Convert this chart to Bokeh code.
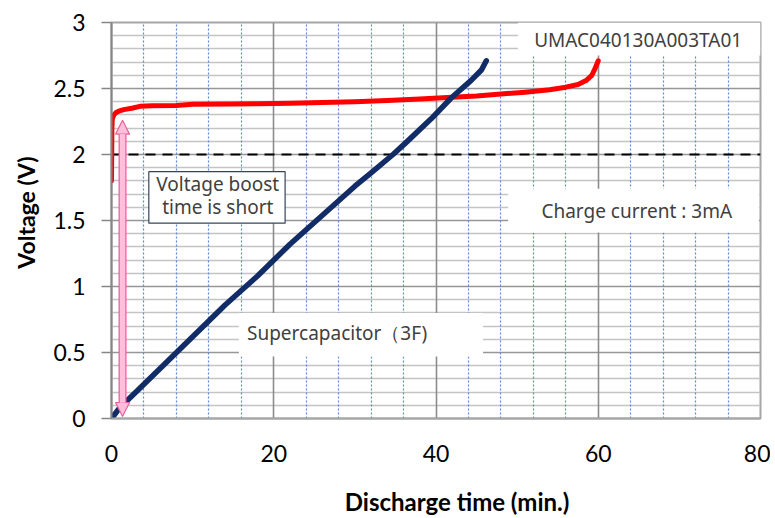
from bokeh.plotting import figure
from bokeh.models import (Range1d, FixedTicker, Grid, Span, Label, Arrow, NormalHead, LinearAxis)
from bokeh.embed import file_html
from bokeh.resources import INLINE

# ---- data ----
t_red = [0, 0.05, 0.1, 0.3, 0.6, 1.0, 1.5, 2.5, 3.5, 5, 8, 10, 15, 18, 22, 26, 30, 34,
         38, 42, 45, 48, 51, 54, 56, 57.5, 58.5, 59.2, 59.6, 60]
v_red = [1.8, 2.2, 2.27, 2.3, 2.32, 2.33, 2.34, 2.35, 2.365, 2.37, 2.372, 2.38, 2.382, 2.384,
         2.388, 2.393, 2.40, 2.41, 2.42, 2.433, 2.443, 2.458, 2.472, 2.49, 2.51, 2.53, 2.56,
         2.6, 2.65, 2.71]

t_blue = [0, 0.5, 1, 2, 4, 7, 10, 14, 18, 22, 26, 30, 32, 34.7, 36.3, 39.4, 41.9, 44.3,
          45.6, 46.2]
v_blue = [0, 0.04, 0.08, 0.14, 0.26, 0.44, 0.62, 0.86, 1.08, 1.32, 1.54, 1.76, 1.86, 2.0,
          2.09, 2.27, 2.43, 2.56, 2.64, 2.71]

x_ticks = [0, 20, 40, 60, 80]
x_tick_labels = ["0", "20", "40", "60", "80"]
y_ticks = [0.0, 0.5, 1.0, 1.5, 2.0, 2.5, 3.0]
y_tick_labels = ["0", "0.5", "1", "1.5", "2", "2.5", "3"]

ref_voltage = 2.0

label_model = "UMAC040130A003TA01"
label_current = "Charge current : 3mA"
label_cap = "Supercapacitor（3F)"
label_boost_1 = "Voltage boost"
label_boost_2 = "time is short"
x_title = "Discharge time (min.)"
y_title = "Voltage (V)"

# ---- figure ----
p = figure(width=770, height=518, x_range=Range1d(0, 80), y_range=Range1d(0, 3),
           output_backend="svg", toolbar_location=None,
           min_border_left=111, min_border_right=10, min_border_top=22, min_border_bottom=97)
p.xgrid.visible = False
p.ygrid.visible = False
p.outline_line_color = "#A6A6A6"
p.outline_line_width = 2
p.background_fill_color = "white"
p.border_fill_color = "white"

# grids
minor_y = [i / 10 for i in range(1, 30) if i % 5]
major_y = [0.5, 1.0, 1.5, 2.0, 2.5]
minor_x = [i for i in range(4, 80, 4) if i % 20]
major_x = [20, 40, 60]
p.add_layout(Grid(dimension=1, ticker=FixedTicker(ticks=minor_y),
                  grid_line_color="#C4C4C4", grid_line_width=1.6), "center")
p.add_layout(Grid(dimension=1, ticker=FixedTicker(ticks=major_y),
                  grid_line_color="#969696", grid_line_width=1.6), "center")
p.add_layout(Grid(dimension=0, ticker=FixedTicker(ticks=minor_x),
                  grid_line_color="#5B8BD0", grid_line_width=1.2,
                  grid_line_dash="2 2"), "center")
p.add_layout(Grid(dimension=0, ticker=FixedTicker(ticks=major_x),
                  grid_line_color="#8C8C8C", grid_line_width=1.6), "center")

span = Span(location=ref_voltage, dimension="width", line_color="black",
            line_width=2, line_dash="10 7", level="underlay")
p.add_layout(span)

# axes
p.xaxis.ticker = FixedTicker(ticks=x_ticks)
p.xaxis.major_label_overrides = dict(zip(x_ticks, x_tick_labels))
p.yaxis.ticker = FixedTicker(ticks=y_ticks)
p.yaxis.major_label_overrides = dict(zip(y_ticks, y_tick_labels))
for ax in (p.xaxis[0], p.yaxis[0]):
    ax.major_label_text_font = "Lato"
    ax.major_label_text_font_size = "23px"
    ax.major_label_text_color = "#000000"
    ax.minor_tick_out = 0
    ax.minor_tick_in = 0
    ax.major_tick_in = 0
p.xaxis.axis_line_color = "#A6A6A6"
p.xaxis.axis_line_width = 2
p.xaxis.major_tick_out = 0
p.xaxis.major_label_standoff = 26
p.yaxis.axis_line_color = "#868686"
p.yaxis.axis_line_width = 2
p.yaxis.major_tick_out = 10
p.yaxis.major_tick_line_color = "#868686"
p.yaxis.major_tick_line_width = 1.6
p.yaxis.major_label_standoff = 16

# axis titles, drawn as the single label of a bare extra axis so they sit where the reference puts them
x_title_pos = 42.6
y_title_pos = 1.56
xt = LinearAxis(ticker=FixedTicker(ticks=[x_title_pos]),
                major_label_overrides={x_title_pos: x_title},
                axis_line_color=None, major_tick_line_color=None, minor_tick_line_color=None,
                major_label_standoff=16, major_label_text_font="Lato",
                major_label_text_font_style="bold", major_label_text_font_size="24px",
                major_label_text_color="#000000")
p.add_layout(xt, "below")
yt = LinearAxis(ticker=FixedTicker(ticks=[y_title_pos]),
                major_label_overrides={y_title_pos: y_title},
                axis_line_color=None, major_tick_line_color=None, minor_tick_line_color=None,
                major_label_standoff=4, major_label_orientation="parallel",
                major_label_text_font="Lato",
                major_label_text_font_style="bold", major_label_text_font_size="23px",
                major_label_text_color="#000000")
p.add_layout(yt, "left")

# white text boxes
p.quad(left=[50.1], right=[80], bottom=[2.75], top=[3.0], fill_color="white", line_color=None)
p.quad(left=[48.9], right=[79.8], bottom=[1.41], top=[1.74], fill_color="white", line_color=None)
p.quad(left=[15.7], right=[45.8], bottom=[0.47], top=[0.80], fill_color="white", line_color=None)
p.quad(left=[4.6], right=[21.4], bottom=[1.48], top=[1.87], fill_color="white",
       line_color="#34455A", line_width=1.2)

# curves
p.line(t_red, v_red, line_color="#FF0000", line_width=5, line_join="round", line_cap="round")
p.line(t_blue, v_blue, line_color="#112C66", line_width=5.5, line_join="round", line_cap="round")

# pink double arrow
pink_fill = "#FFBFDB"
pink_line = "#E8609E"
arr_x = 1.36
arr_bottom = 0.015
arr_top = 2.26
head_px = 14
head_v = head_px / 133.0
p.add_layout(Arrow(start=NormalHead(size=head_px, fill_color=pink_fill, line_color=pink_line, line_width=1.2),
                   end=NormalHead(size=head_px, fill_color=pink_fill, line_color=pink_line, line_width=1.2),
                   x_start=arr_x, y_start=arr_bottom, x_end=arr_x, y_end=arr_top,
                   line_color=pink_line, line_width=8))
p.add_layout(Arrow(start=None, end=None, x_start=arr_x, y_start=arr_bottom + head_v,
                   x_end=arr_x, y_end=arr_top - head_v, line_color=pink_fill, line_width=5.5))

# texts
txt = dict(text_font="Noto Sans", text_font_size="19px", text_color="#404040",
           text_baseline="middle")
p.add_layout(Label(x=52.1, y=2.865, text=label_model, **txt))
p.add_layout(Label(x=53.0, y=1.57, text=label_current, **txt))
p.add_layout(Label(x=16.7, y=0.65, text=label_cap, **txt))
p.add_layout(Label(x=13.1, y=1.775, text=label_boost_1, text_align="center", **txt))
p.add_layout(Label(x=13.1, y=1.60, text=label_boost_2, text_align="center", **txt))

open("out.html", "w").write(file_html(p, INLINE))
